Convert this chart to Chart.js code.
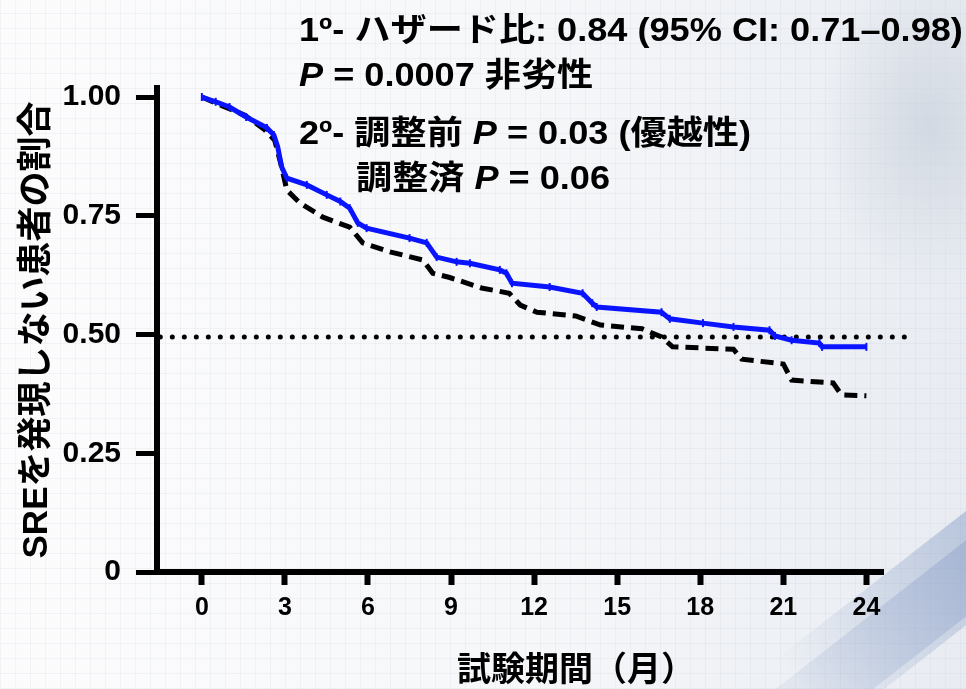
<!DOCTYPE html>
<html>
<head>
<meta charset="utf-8">
<script src="https://cdn.jsdelivr.net/npm/chart.js@4"></script>
<style>
  body { margin: 0; }
  #wrap { position: relative; width: 966px; height: 689px; overflow: hidden;
    background:
      repeating-linear-gradient(0deg, rgba(170,180,200,0.12) 0 1px, transparent 1px 15px),
      repeating-linear-gradient(90deg, rgba(170,180,200,0.12) 0 1px, transparent 1px 15px),
      linear-gradient(90deg, #fcfcfd 0%, #f6f7f9 55%, #e8ecf2 100%);
    font-family: 'Liberation Sans', Arial, 'Noto Sans CJK JP', sans-serif; font-weight: bold; }
  .bg1 { position: absolute; left: 820px; top: -40px; width: 220px; height: 330px;
    background: radial-gradient(ellipse at center, rgba(205,212,222,0.8), rgba(230,234,240,0) 70%); }
  .bg2 { position: absolute; left: 760px; top: 520px; width: 420px; height: 90px; transform: rotate(-38deg);
    background: linear-gradient(90deg, rgba(150,170,205,0), rgba(120,145,190,0.75)); }
  .bg3 { position: absolute; left: 690px; top: 600px; width: 420px; height: 60px; transform: rotate(-38deg);
    background: linear-gradient(90deg, rgba(150,170,205,0), rgba(140,160,200,0.6)); }
  canvas { position: absolute; left: 0; top: 0; }
  .txt { position: absolute; font-size: 33px; line-height: 38px; color: #000; white-space: nowrap;
    transform: scaleX(1.095); transform-origin: left center; }
  .ttl { position: absolute; font-size: 34px; line-height: 38px; color: #000; white-space: nowrap; }
</style>
</head>
<body>
<div id="wrap">
  <div class="bg1"></div>
  <div class="bg2"></div>
  <div class="bg3"></div>
  <canvas id="grafico" width="966" height="689"></canvas>
  <div class="txt" style="left:299px; top:11px;">1º- ハザード比: 0.84 (95% CI: 0.71–0.98)</div>
  <div class="txt" style="left:299px; top:56px;"><i>P</i> = 0.0007 非劣性</div>
  <div class="txt" style="left:299px; top:114px;">2º- 調整前 <i>P</i> = 0.03 (優越性)</div>
  <div class="txt" style="left:356px; top:159px;">調整済 <i>P</i> = 0.06</div>
  <div class="ttl" style="left:457px; top:650px;">試験期間（月）</div>
</div>
<script>
// meses y proporcion sin SRE
const azulX = [0, 0.5, 1.0, 1.6, 2.35, 2.6, 2.74, 2.88, 3.07, 3.79, 4.51, 5.0, 5.34, 5.63, 5.95, 7.5, 8.12, 8.48, 9.2, 9.68, 10.76, 11.0, 11.2, 12.56, 13.75, 14.1, 14.26, 16.6, 16.9, 18.1, 19.2, 20.5, 20.7, 21.3, 22.3, 22.4, 24.0];
const azulY = [1.0, 0.99, 0.979, 0.958, 0.935, 0.92, 0.895, 0.853, 0.829, 0.815, 0.794, 0.78, 0.766, 0.735, 0.724, 0.703, 0.693, 0.663, 0.653, 0.65, 0.636, 0.629, 0.608, 0.6, 0.587, 0.566, 0.558, 0.547, 0.533, 0.524, 0.516, 0.509, 0.497, 0.488, 0.482, 0.474, 0.474];

const negroX = [0, 0.83, 1.55, 2.27, 2.63, 2.85, 3.07, 3.54, 4.37, 5.34, 5.81, 6.79, 7.98, 8.34, 8.95, 10.1, 11.1, 11.5, 12.1, 13.5, 14.4, 15.9, 16.6, 17.0, 19.2, 19.5, 21.0, 21.3, 22.8, 23.1, 24.0];
const negroY = [1.0, 0.979, 0.962, 0.931, 0.909, 0.86, 0.804, 0.777, 0.747, 0.726, 0.693, 0.674, 0.657, 0.629, 0.62, 0.598, 0.587, 0.562, 0.547, 0.539, 0.52, 0.512, 0.495, 0.474, 0.469, 0.448, 0.438, 0.404, 0.398, 0.373, 0.371];

const medianaX = [-1.5, 25.8];
const medianaY = [0.495, 0.495];

const ticksX = [0, 3, 6, 9, 12, 15, 18, 21, 24];
const ticksY = [0, 0.25, 0.5, 0.75, 1.0];
const etiquetasY = ['0', '0.25', '0.50', '0.75', '1.00'];

const tituloY = 'SREを発現しない患者の割合';

function puntos(xs, ys) {
    let datos = [];
    for (let i = 0; i < xs.length; i++) {
        datos.push({ x: xs[i], y: ys[i] });
    }
    return datos;
}

const fuente = "'Liberation Sans', Arial, 'Noto Sans CJK JP', sans-serif";

new Chart(document.getElementById('grafico'), {
    type: 'line',
    data: {
        datasets: [{
            data: puntos(azulX, azulY),
            borderColor: '#0a14ff',
            borderWidth: 5,
            pointStyle: 'line',
            rotation: 90,
            pointRadius: 4,
            pointBorderWidth: 2,
            pointBorderColor: '#0a14ff',
            tension: 0
        }, {
            data: puntos(negroX, negroY),
            borderColor: '#000',
            borderWidth: 5,
            borderDash: [13, 7],
            pointRadius: 0,
            tension: 0
        }, {
            data: puntos(medianaX, medianaY),
            borderColor: '#000',
            borderWidth: 5,
            borderDash: [0, 12],
            borderCapStyle: 'round',
            pointRadius: 0,
            clip: false
        }]
    },
    options: {
        responsive: false,
        animation: false,
        layout: { padding: { top: 88, right: 83, bottom: 0, left: 0 } },
        plugins: { legend: { display: false }, tooltip: { enabled: false } },
        scales: {
            x: {
                type: 'linear',
                min: -1.62,
                max: 24.6,
                afterBuildTicks: (s) => { s.ticks = ticksX.map(v => ({ value: v })); },
                afterFit: (s) => { s.height = 117; },
                grid: { drawOnChartArea: false, tickLength: 13, tickWidth: 6, tickColor: '#000' },
                border: { color: '#000', width: 6 },
                ticks: { color: '#000', padding: 8, font: { family: fuente, size: 25, weight: 'bold' } }
            },
            y: {
                min: 0,
                max: 1.019,
                afterBuildTicks: (s) => { s.ticks = ticksY.map(v => ({ value: v })); },
                afterFit: (s) => { s.width = 157; },
                grid: { drawOnChartArea: false, tickLength: 21, tickWidth: 5, tickColor: '#000' },
                border: { color: '#000', width: 6 },
                ticks: {
                    color: '#000', padding: 15,
                    font: { family: fuente, size: 30, weight: 'bold' },
                    callback: (v) => etiquetasY[ticksY.indexOf(v)]
                },
                title: {
                    display: true, text: tituloY, color: '#000',
                    padding: { top: 16, bottom: 0 },
                    font: { family: fuente, size: 35, weight: 'bold' }
                }
            }
        }
    }
});
</script>
</body>
</html>
